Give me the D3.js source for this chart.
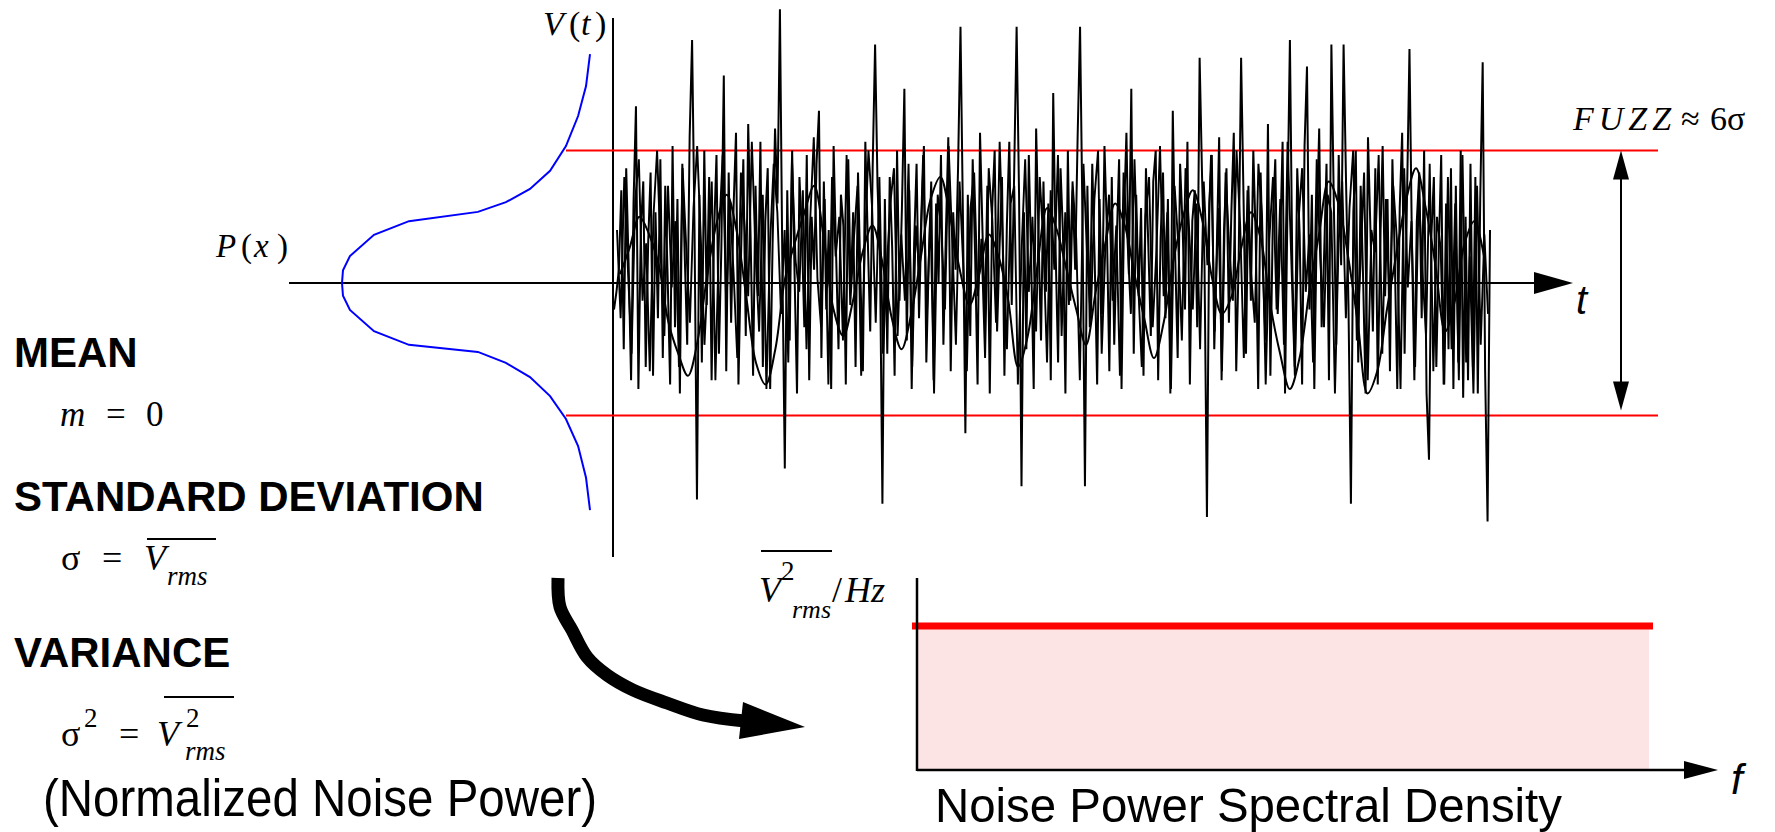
<!DOCTYPE html>
<html>
<head>
<meta charset="utf-8">
<script src="https://cdn.jsdelivr.net/npm/d3@7"></script>
<style>
  body { margin: 0; background: #fff; }
  .serif { font-family: "Liberation Serif", "DejaVu Serif", serif; }
  .sans { font-family: "Liberation Sans", Arial, sans-serif; }
</style>
</head>
<body>
<div class="graph"></div>
<script>
// noise samples V(t), in units of sigma
const noise = [
  -0.6, -0.2, 0.3, 2.1, -1.5, 2.6, 0.4, -2.2, 1.8, 4.0, -2.4, 1.2, 2.3, -1.9, 0.9, 2.5, -2.1, 1.6, -0.8, 2.8,
  -1.7, 2.2, 0.1, -2.3, 3.1, -1.0, 1.9, -2.5, 2.7, 0.6, -1.4, 3.3, 5.5, 1.2, -4.9, 2.0, -1.8, 3.0, -0.5, 2.4,
  -2.2, 1.1, 2.9, -1.6, 0.8, 4.7, -2.0, 2.5, -0.9, 1.7, 3.4, -2.3, 0.5, 2.8, -1.2, 3.6, 1.0, -2.1, 2.2, -0.3,
  3.2, -1.9, 1.4, 2.6, -2.4, 0.9, 3.5, 1.8, 6.2, 0.4, -4.2, 2.1, -1.3, 3.0, 0.2, -2.5, 2.4, 1.1, -1.0, 2.9,
  -2.2, 1.5, 0.3, 2.7, 3.9, -1.7, 2.3, -0.6, 1.2, -2.4, 3.1, 0.7, -1.5, 2.0, 1.3, -2.3, 2.8, -0.2, 1.6, -1.9,
  2.5, 0.1, -2.0, 3.2, 1.0, -1.1, 2.6, 5.4, 2.2, 0.6, -5.0, 1.9, -1.6, 2.4, 0.8, -2.1, 3.0, -0.4, 1.7, 4.4,
  -1.3, 2.1, -2.4, 0.9, 2.7, -0.8, 1.4, 3.1, -1.8, 0.5, 2.3, -2.2, 1.8, 0.0, 2.9, -1.4, 1.1, 3.3, -2.0, 1.6,
  0.3, 2.6, 5.8, 1.5, -3.4, 2.0, -1.2, 2.8, 0.6, -2.3, 3.4, 1.2, -0.9, 2.2, -2.5, 1.7, 3.0, -1.1, 0.8, 2.4,
  -2.1, 1.3, 3.2, -0.5, 2.5, 5.8, 2.0, -4.6, 1.6, -1.5, 2.9, 0.4, -2.4, 3.5, 1.0, -1.3, 2.3, -0.2, 1.8, -2.2,
  4.3, 0.7, -1.8, 2.6, 1.1, -2.5, 3.0, -0.4, 2.1, 0.3, 3.3, 5.8, 1.4, -4.6, 2.2, -1.0, 2.7, 0.5, -2.3, 1.9,
  -0.7, 3.1, 1.2, -2.0, 2.4, -1.4, 0.9, 2.8, -2.4, 1.5, 3.4, 0.2, 4.4, -1.6, 2.0, -0.3, 1.7, -2.1, 2.6, 0.8,
  -1.2, 2.3, 3.0, -2.2, 1.0, 2.5, -0.8, 1.9, -2.5, 3.9, 0.6, -1.7, 2.7, 1.3, -0.6, 3.2, -2.3, 1.4, 2.1, -1.0,
  5.1, 2.4, 0.4, -5.3, 1.8, 2.9, -1.5, 0.7, 3.3, -2.2, 1.2, 2.6, -0.9, 1.6, 3.4, -2.0, 0.5, 5.1, 1.9, -1.6,
  2.2, -0.4, 3.0, 1.0, -2.4, 2.5, 0.2, -1.3, 3.6, -2.1, 1.4, 2.8, -0.7, 0.9, 3.2, -2.5, 1.7, 5.5, 0.3, -1.9,
  2.6, 1.1, -2.3, 3.1, 4.9, -0.6, 2.0, -2.4, 1.3, 3.5, -1.0, 0.6, 2.7, -2.2, 5.4, 1.8, -1.4, 2.9, 0.4, 5.4,
  2.3, -0.5, -5.0, 1.6, 3.0, -1.8, 2.2, 0.1, -2.5, 3.3, 1.2, -1.1, 2.6, -2.3, 0.8, 3.1, -0.3, 1.9, -2.0, 2.8,
  0.5, -2.4, 1.7, 3.4, -1.6, 2.0, 5.3, 0.9, -2.2, 1.4, 2.5, -0.8, 3.0, -2.5, -4.0, 1.1, 2.4, -1.9, 0.7, 2.9,
  -2.3, 1.8, -1.5, 2.6, -2.4, 2.2, -1.8, 3.0, -2.6, 1.5, -2.2, 2.7, -1.9, 2.4, -2.5, 1.9, 5.0, -2.0, -5.4, 1.2
];

// a second overlaid sweep, read over the same time span
const noise2 = [
  1.2, -0.8, 2.4, 0.3, -1.6, 1.9, 2.8, -0.4, 0.9, -2.0, 1.5, 3.0, 0.6, -1.2, 2.2, -0.1, 1.4, -1.9, 2.6, 0.8,
  -0.9, 1.7, 3.1, 1.0, -1.4, 0.4, 2.3, -2.2, 1.1, 2.9, -0.6, 1.8, 0.2, -1.7, 2.5, 1.3, -0.3, 3.2, 0.7, -1.1,
  2.0, -2.4, 0.9, 2.7, 1.6, -0.7, 1.2, -1.8, 2.8, 0.5, -0.2, 2.1, -1.5, 1.4, 3.3, 0.1, -1.0, 1.9, -2.3, 2.4,
  0.6, 1.5, -1.3, 2.9, -0.5, 1.0, 2.2, -2.1, 0.8, 3.0, 1.7, -0.9, 2.4, -1.6, 0.3, 1.8, 2.6, -1.2, 1.1, -0.4,
  2.7, -1.9, 1.3, 0.2, 2.9, -0.8, 1.6, -2.5, 2.0, 1.2, -0.6, 3.1, 0.9, -1.4, 2.3, 0.4, -2.0, 1.7, 2.5, -0.3,
  1.0, -1.7, 2.6, 1.4, -0.9, 3.2, 0.5, -1.5, 1.8, 2.2, -2.3, 0.7, 2.8, -0.2, 1.5, -1.1, 2.4, 0.9, -1.8, 2.1,
  0.3, 2.9, -1.2, 1.6, -0.5, 2.3, 1.0, -2.2, 2.7, 0.6, -0.8, 1.9, 3.0, -1.6, 0.8, 2.0, -0.4, 1.3, -2.1, 2.5,
  1.1, -0.7, 2.8, 0.0, -1.9, 1.5, 2.4, -1.0, 0.7, 3.1, -0.3, 1.6, -2.4, 2.2, 0.9, -1.3, 2.6, 1.2, -0.6, 1.8,
  -1.5, 2.3, 0.4, 2.9, -1.1, 1.7, -2.0, 2.5, 0.8, -0.4, 3.0, 1.3, -1.7, 2.1, 0.2, -0.9, 2.7, 1.5, -2.3, 1.0,
  2.4, -0.6, 1.9, -1.4, 3.2, 0.6, -2.1, 1.4, 2.6, -0.2, 1.1, -1.8, 2.8, 0.5, -1.0, 2.0, 1.6, -2.5, 0.9, 2.3,
  -0.8, 1.7, 3.0, -1.3, 0.4, 2.5, -2.2, 1.2, 0.7, 2.9, -1.6, 1.9, -0.5, 2.2, 1.0, -2.4, 2.6, -0.1, 1.4, -1.9,
  2.1, 0.3, -1.2, 2.7, -2.0, 1.5, 0.8, -2.3, 2.4, -1.5, 1.8, -2.2, 2.9, -1.8, 0.6, -2.5, 2.2, -1.4, 1.1, -0.7
];

// slower wandering component drawn on top (smooth loops)
const slowNoise = [
  0.2, 0.8, 1.5, 1.1, 0.4, -0.9, -1.6, -2.1, -1.3, 0.2, 1.4, 2.0, 1.2, -0.3, -1.8, -2.3, -1.5, 0.1, 0.9, 1.6,
  2.2, 1.0, -0.6, -1.2, -0.4, 0.7, 1.3, 0.5, -0.8, -1.5, -0.7, 0.6, 1.9, 2.4, 1.5, 0.3, -0.5, 0.2, 1.1, 0.6,
  -0.4, -1.9, -1.2, 0.4, 1.7, 1.2, 0.3, -0.6, -1.4, -0.2, 0.9, 1.8, 1.3, 0.2, -0.8, -1.7, -0.9, 0.5, 1.5, 2.1,
  1.4, 0.1, -0.7, -0.3, 0.8, 1.6, 1.0, -0.5, -1.6, -2.4, -1.7, -0.2, 1.1, 2.3, 1.8, 0.6, -0.9, -2.5, -2.0, -0.6,
  0.7, 1.9, 2.6, 1.7, 0.4, -1.1, -0.4, 0.9, 1.4, 0.6
];

// probability density P(x) versus voltage (sigma units)
const pdfVolts = [5.18, 4.46, 3.78, 3.10, 2.54, 2.13, 1.83, 1.61, 1.40, 1.09, 0.61, 0.29, 0,
  -0.29, -0.61, -1.09, -1.40, -1.56, -1.81, -2.13, -2.56, -3.08, -3.69, -4.41, -5.14];
const pdfDensity = [0, 0.016, 0.048, 0.097, 0.161, 0.242, 0.339, 0.452, 0.730, 0.871, 0.968, 0.996, 1,
  0.996, 0.968, 0.871, 0.730, 0.452, 0.339, 0.242, 0.161, 0.097, 0.048, 0.016, 0];

// fuzz limits (+/- 3 sigma)
const fuzzLimits = [3, -3];

// flat (white) noise power spectral density
const psdBand = [0, 92];
const psdLevel = 0.75;

// bent arrow from the time plot to the spectrum
const bendArrow = [[558, 578], [560, 607], [572, 630], [587, 657], [607, 675], [633, 690], [667, 703], [703, 715], [745, 721]];

const dims = { width: 1775, height: 832 };

const svg = d3.select(".graph")
  .append("svg")
    .attr("width", dims.width)
    .attr("height", dims.height);

// scales
const tScale = d3.scaleLinear().domain([0, noise.length - 1]).range([614, 1490]);
const tScale2 = d3.scaleLinear().domain([0, noise2.length - 1]).range([617, 1488]);
const tSlow = d3.scaleLinear().domain([0, slowNoise.length - 1]).range([620, 1484]);
const vScale = d3.scaleLinear().domain([-3, 3]).range([415.5, 150.5]);
const pScale = d3.scaleLinear().domain([0, 1]).range([590, 342]);
const fScale = d3.scaleLinear().domain([0, 100]).range([917, 1717]);
const sScale = d3.scaleLinear().domain([0, 1]).range([770, 578]);

// ---- time domain plot ----
// t axis
svg.append("line")
  .attr("x1", 289).attr("x2", 1540)
  .attr("y1", vScale(0)).attr("y2", vScale(0))
  .attr("stroke", "black").attr("stroke-width", 2);
svg.append("polygon")
  .attr("points", `1534,${vScale(0) - 11} 1573,${vScale(0)} 1534,${vScale(0) + 11}`)
  .attr("fill", "black");

// V(t) axis
svg.append("line")
  .attr("x1", 613).attr("x2", 613)
  .attr("y1", 18).attr("y2", 557)
  .attr("stroke", "black").attr("stroke-width", 2);

// red fuzz limits
svg.selectAll(".limit")
  .data(fuzzLimits)
  .join("line")
    .attr("class", "limit")
    .attr("x1", 566).attr("x2", 1658)
    .attr("y1", d => vScale(d)).attr("y2", d => vScale(d))
    .attr("stroke", "#ff0000").attr("stroke-width", 2);

// noise traces
const noiseLine = d3.line()
  .x((d, i) => tScale(i))
  .y(d => vScale(d));
const noiseLine2 = d3.line()
  .x((d, i) => tScale2(i))
  .y(d => vScale(d));
svg.append("path")
  .attr("d", noiseLine2(noise2))
  .attr("fill", "none")
  .attr("stroke", "black")
  .attr("stroke-width", 1.9);
svg.append("path")
  .attr("d", noiseLine(noise))
  .attr("fill", "none")
  .attr("stroke", "black")
  .attr("stroke-width", 2);

const slowLine = d3.line()
  .x((d, i) => tSlow(i))
  .y(d => vScale(d))
  .curve(d3.curveCatmullRom.alpha(0.5));
svg.append("path")
  .attr("d", slowLine(slowNoise))
  .attr("fill", "none")
  .attr("stroke", "black")
  .attr("stroke-width", 2);

// gaussian density
const pdfLine = d3.line()
  .x((d, i) => pScale(pdfDensity[i]))
  .y(d => vScale(d));
svg.append("path")
  .attr("d", pdfLine(pdfVolts))
  .attr("fill", "none")
  .attr("stroke", "#0000ff")
  .attr("stroke-width", 2);

// FUZZ double arrow
const fx = 1621;
const fTop = vScale(fuzzLimits[0]), fBot = vScale(fuzzLimits[1]) - 5;
svg.append("line")
  .attr("x1", fx).attr("x2", fx)
  .attr("y1", fTop + 20).attr("y2", fBot - 20)
  .attr("stroke", "black").attr("stroke-width", 2);
svg.append("polygon")
  .attr("points", `${fx},${fTop} ${fx + 8},${fTop + 29} ${fx - 8},${fTop + 29}`)
  .attr("fill", "black");
svg.append("polygon")
  .attr("points", `${fx},${fBot} ${fx + 8},${fBot - 29} ${fx - 8},${fBot - 29}`)
  .attr("fill", "black");

// labels of time plot
const vt = svg.append("text").attr("class", "serif").attr("font-size", 34).attr("y", 35);
vt.append("tspan").attr("x", 543).attr("font-style", "italic").text("V");
vt.append("tspan").attr("x", 569).text("(");
vt.append("tspan").attr("x", 581).attr("font-style", "italic").text("t");
vt.append("tspan").attr("x", 595).text(")");

const px = svg.append("text").attr("class", "serif").attr("font-size", 33).attr("y", 257);
px.append("tspan").attr("x", 216).attr("font-style", "italic").text("P");
px.append("tspan").attr("x", 241).text("(");
px.append("tspan").attr("x", 254).attr("font-style", "italic").text("x");
px.append("tspan").attr("x", 277).text(")");

svg.append("text")
  .attr("class", "sans")
  .attr("x", 1576).attr("y", 314)
  .attr("font-size", 40).attr("font-style", "italic")
  .text("t");

const fz = svg.append("text").attr("class", "serif").attr("font-size", 34).attr("y", 130);
fz.append("tspan").attr("x", 1573).attr("font-style", "italic").attr("letter-spacing", 5).text("FUZZ");
fz.append("tspan").attr("x", 1681).text("\u2248");
fz.append("tspan").attr("x", 1710).text("6\u03c3");

// ---- left hand definitions ----
const bold = (txt, y) => svg.append("text")
  .attr("class", "sans")
  .attr("x", 14).attr("y", y)
  .attr("font-size", 42).attr("font-weight", "bold")
  .text(txt);
bold("MEAN", 367);
bold("STANDARD DEVIATION", 511);
bold("VARIANCE", 667);

const mean = svg.append("text").attr("class", "serif").attr("font-size", 35).attr("y", 426);
mean.append("tspan").attr("x", 60).attr("font-style", "italic").text("m");
mean.append("tspan").attr("x", 106).text("=");
mean.append("tspan").attr("x", 146).text("0");

const sd = svg.append("text").attr("class", "serif").attr("font-size", 36).attr("y", 570);
sd.append("tspan").attr("x", 61).text("\u03c3");
sd.append("tspan").attr("x", 102).text("=");
sd.append("tspan").attr("x", 144).attr("font-style", "italic").text("V");
sd.append("tspan").attr("x", 167).attr("y", 585).attr("font-size", 27).attr("font-style", "italic").text("rms");
svg.append("line").attr("x1", 147).attr("x2", 216).attr("y1", 539).attr("y2", 539)
  .attr("stroke", "black").attr("stroke-width", 2);

const vr = svg.append("text").attr("class", "serif").attr("font-size", 36).attr("y", 746);
vr.append("tspan").attr("x", 61).text("\u03c3");
vr.append("tspan").attr("x", 84).attr("y", 727).attr("font-size", 27).text("2");
vr.append("tspan").attr("x", 119).attr("y", 746).text("=");
vr.append("tspan").attr("x", 157).attr("font-style", "italic").text("V");
vr.append("tspan").attr("x", 186).attr("y", 727).attr("font-size", 27).text("2");
vr.append("tspan").attr("x", 185).attr("y", 760).attr("font-size", 27).attr("font-style", "italic").text("rms");
svg.append("line").attr("x1", 164).attr("x2", 234).attr("y1", 697).attr("y2", 697)
  .attr("stroke", "black").attr("stroke-width", 2);

svg.append("text")
  .attr("class", "sans")
  .attr("x", 43).attr("y", 816)
  .attr("font-size", 51)
  .attr("textLength", 554).attr("lengthAdjust", "spacingAndGlyphs")
  .text("(Normalized Noise Power)");

// ---- bent arrow ----
const arrowLine = d3.line().curve(d3.curveCatmullRom.alpha(0.5));
svg.append("path")
  .attr("d", arrowLine(bendArrow))
  .attr("fill", "none")
  .attr("stroke", "black")
  .attr("stroke-width", 13);
svg.append("polygon")
  .attr("points", "743,702 805,727 739,739")
  .attr("fill", "black");

// ---- power spectral density ----
svg.append("rect")
  .attr("x", fScale(psdBand[0]))
  .attr("width", fScale(psdBand[1]) - fScale(psdBand[0]) - 4)
  .attr("y", sScale(psdLevel))
  .attr("height", sScale(0) - sScale(psdLevel))
  .attr("fill", "#fde4e4");

svg.append("line")
  .attr("x1", fScale(psdBand[0]) - 5).attr("x2", fScale(psdBand[1]))
  .attr("y1", sScale(psdLevel)).attr("y2", sScale(psdLevel))
  .attr("stroke", "#ff0000").attr("stroke-width", 7);

svg.append("line")
  .attr("x1", fScale(0)).attr("x2", fScale(0))
  .attr("y1", sScale(1)).attr("y2", sScale(0) + 1)
  .attr("stroke", "black").attr("stroke-width", 2.5);
svg.append("line")
  .attr("x1", fScale(0)).attr("x2", 1690)
  .attr("y1", sScale(0)).attr("y2", sScale(0))
  .attr("stroke", "black").attr("stroke-width", 2.5);
svg.append("polygon")
  .attr("points", `1684,${sScale(0) - 9} 1718,${sScale(0)} 1684,${sScale(0) + 9}`)
  .attr("fill", "black");

svg.append("text")
  .attr("class", "sans")
  .attr("x", 1731).attr("y", 794)
  .attr("font-size", 42).attr("font-style", "italic")
  .text("f");

const ps = svg.append("text").attr("class", "serif").attr("font-size", 36).attr("y", 602);
ps.append("tspan").attr("x", 759).attr("font-style", "italic").text("V");
ps.append("tspan").attr("x", 781).attr("y", 580).attr("font-size", 27).text("2");
ps.append("tspan").attr("x", 792).attr("y", 618).attr("font-size", 26).attr("font-style", "italic").text("rms");
ps.append("tspan").attr("x", 832).attr("y", 602).text("/");
ps.append("tspan").attr("x", 845).attr("font-style", "italic").text("Hz");
svg.append("line").attr("x1", 761).attr("x2", 832).attr("y1", 551).attr("y2", 551)
  .attr("stroke", "black").attr("stroke-width", 2);

svg.append("text")
  .attr("class", "sans")
  .attr("x", 935).attr("y", 822)
  .attr("font-size", 49)
  .attr("textLength", 627).attr("lengthAdjust", "spacingAndGlyphs")
  .text("Noise Power Spectral Density");
</script>
</body>
</html>
